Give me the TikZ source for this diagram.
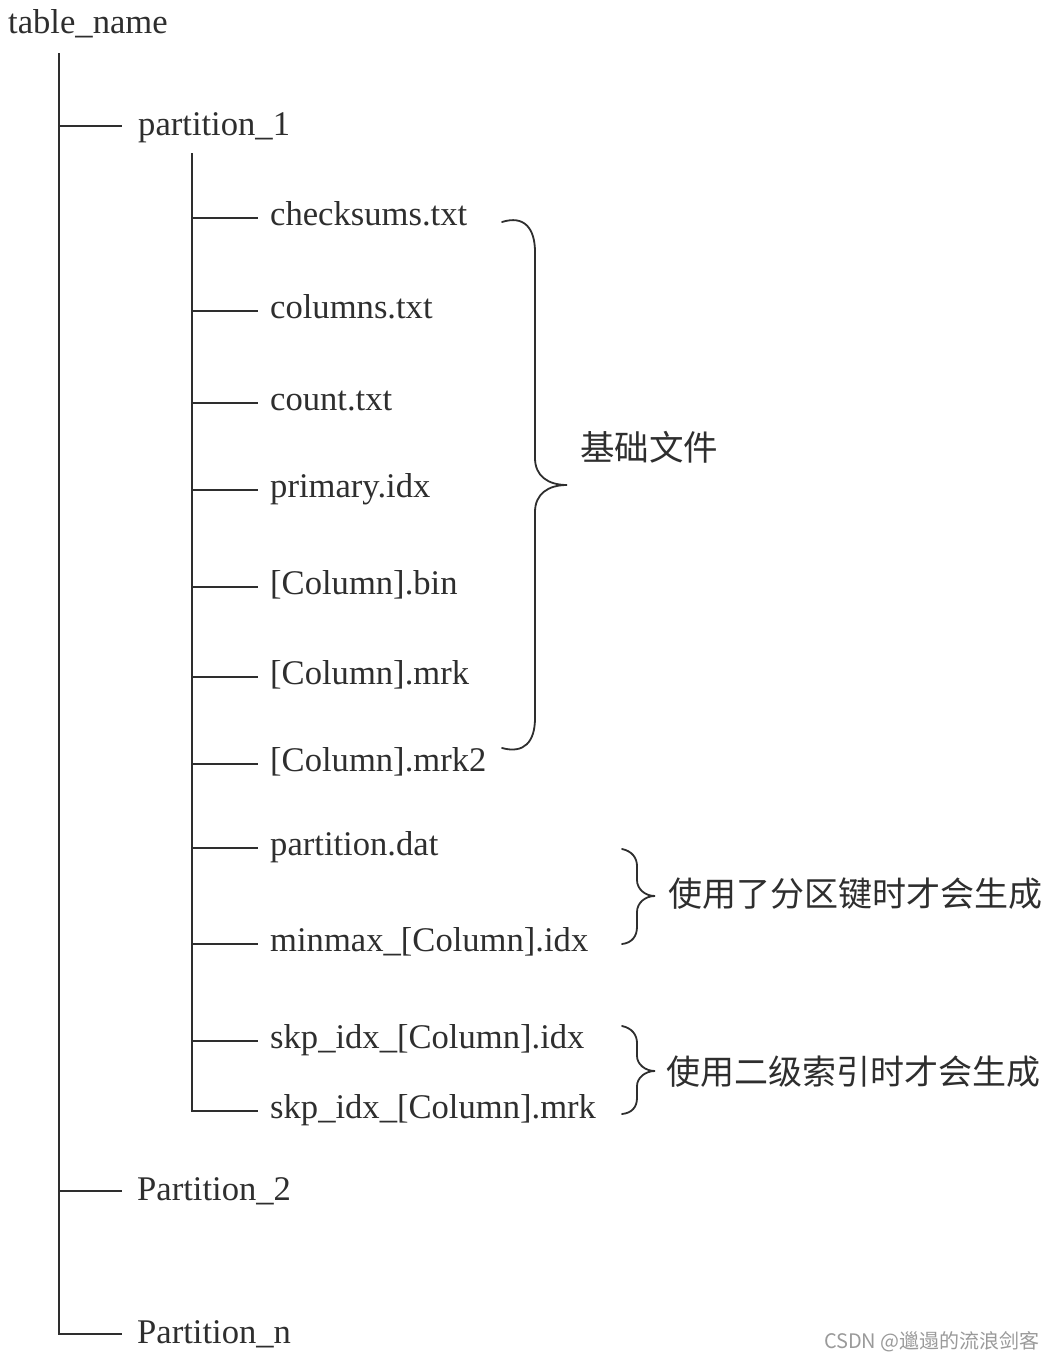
\documentclass[tikz,border=0pt]{standalone}
\usepackage{fontspec}
\setmainfont{Liberation Serif}
\newfontfamily\cjk{Noto Sans CJK SC}
\usetikzlibrary{calc}
\definecolor{ink}{HTML}{2E2E2E}
\definecolor{wmgray}{HTML}{9A9A9A}
\begin{document}
\begin{tikzpicture}[x=1pt,y=-1pt,
  tree/.style={draw=ink,line width=2pt},
  brc/.style={draw=ink,line width=1.8pt,line cap=round},
  lbl/.style={anchor=base west,inner sep=0pt,text=ink,font=\fontsize{34.6}{40}\selectfont},
  note/.style={anchor=west,inner sep=0pt,text=ink,font=\cjk\fontsize{34.5}{40}\selectfont},
  note2/.style={anchor=west,inner sep=0pt,text=ink,font=\cjk\fontsize{34}{40}\selectfont}]
\useasboundingbox (0,0) rectangle (1052,1360);
% root
\node[lbl] (root) at (8,33) {table\_name};
\coordinate (t1top) at (59,53);
\coordinate (t1bot) at (59,1334);
\draw[tree] (t1top) -- (t1bot) -- (122,1334);
% level 1
\node[lbl] (p1) at (138,135) {partition\_1};
\node[lbl] (p2) at (137,1200) {Partition\_2};
\node[lbl] (pn) at (137,1343) {Partition\_n};
\coordinate (p1a) at (59,126); \coordinate (p1b) at (122,126);
\coordinate (p2a) at (59,1191); \coordinate (p2b) at (122,1191);
\draw[tree] (p1a) -- (p1b);
\draw[tree] (p2a) -- (p2b);
% level 2 trunk
\coordinate (t2top) at (192,153);
\coordinate (t2bot) at (192,1111);
\draw[tree] (t2top) -- (t2bot) -- (258,1111);
% files
\foreach \nm/\yy/\txt in {
  f1/218/checksums.txt,
  f2/311/columns.txt,
  f3/403/count.txt,
  f4/490/primary.idx,
  f5/587/{[Column].bin},
  f6/677/{[Column].mrk},
  f7/764/{[Column].mrk2},
  f8/848/partition.dat,
  f9/944/{minmax\_[Column].idx},
  f10/1041/{skp\_idx\_[Column].idx}}{
  \node[lbl] (\nm) at (270,\yy+7) {\txt};
  \coordinate (\nm a) at (192,\yy);
  \coordinate (\nm b) at (258,\yy);
  \draw[tree] (\nm a) -- (\nm b);
}
\node[lbl] (f11) at (270,1118) {skp\_idx\_[Column].mrk};
% brace 1
\coordinate (b1t) at (502,222);
\coordinate (b1m) at (567,485);
\coordinate (b1b) at (502,748);
\draw[brc] (b1t) .. controls (524,215) and (535,228) .. (535,252)
  -- (535,458) .. controls (535,476) and (548,485) .. (b1m)
  .. controls (548,485) and (535,494) .. (535,512)
  -- (535,718) .. controls (535,742) and (524,754) .. (b1b);
\node[note] (n1) at (580,447) {基础文件};
% brace 2
\coordinate (b2t) at (622,849);
\coordinate (b2m) at (655,896);
\coordinate (b2b) at (622,944);
\draw[brc] (b2t) .. controls (632,851) and (637,858) .. (637,866)
  -- (637,880) .. controls (637,889) and (645,896) .. (b2m)
  .. controls (645,896) and (637,903) .. (637,912)
  -- (637,927) .. controls (637,936) and (632,943) .. (b2b);
\node[note2] (n2) at (668,894) {使用了分区键时才会生成};
% brace 3
\coordinate (b3t) at (622,1026);
\coordinate (b3m) at (655,1071);
\coordinate (b3b) at (622,1114);
\draw[brc] (b3t) .. controls (632,1028) and (637,1035) .. (637,1043)
  -- (637,1056) .. controls (637,1064) and (645,1071) .. (b3m)
  .. controls (645,1071) and (637,1078) .. (637,1086)
  -- (637,1098) .. controls (637,1107) and (632,1113) .. (b3b);
\node[note2] (n3) at (666,1072) {使用二级索引时才会生成};
% watermark
\node[anchor=base east,inner sep=0pt,text=wmgray,font=\cjk\fontsize{20}{24}\selectfont] (wm) at (1040,1348) {CSDN @邋遢的流浪剑客};
\end{tikzpicture}
\end{document}
